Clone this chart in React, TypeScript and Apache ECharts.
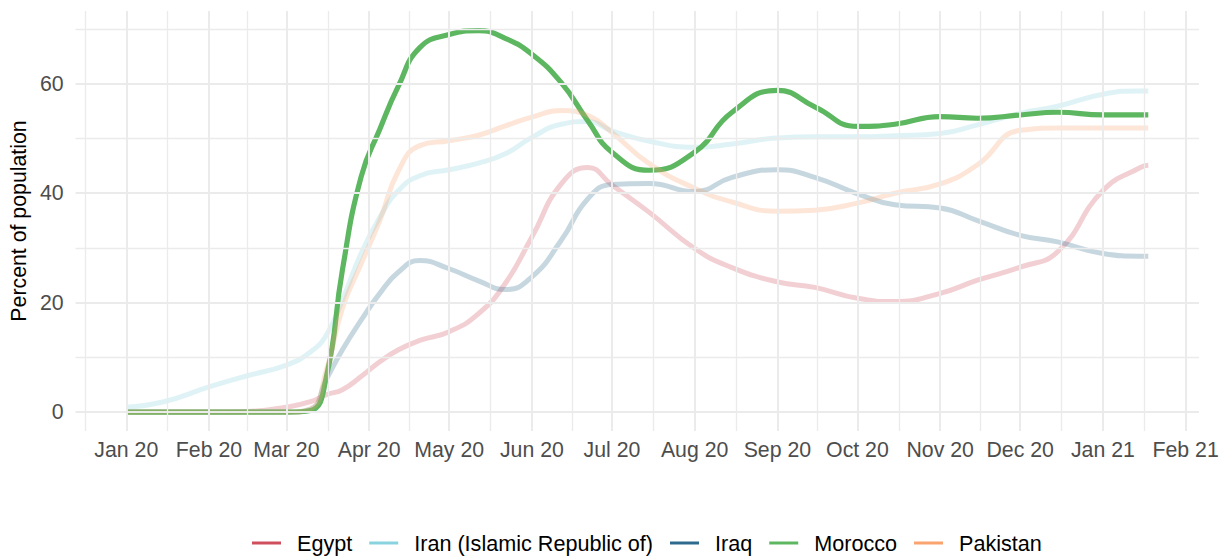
import React, { useEffect, useRef } from "react";
import * as echarts from "echarts";

// ---- data ----
const dates = [
  "2020-01-01", "2020-01-15", "2020-02-01", "2020-02-15", "2020-03-01", "2020-03-10",
  "2020-03-16", "2020-03-22", "2020-03-29", "2020-04-05", "2020-04-12", "2020-04-20",
  "2020-05-01", "2020-05-12", "2020-05-22", "2020-06-01", "2020-06-12", "2020-06-22",
  "2020-07-01", "2020-07-15", "2020-08-01", "2020-08-15", "2020-09-01", "2020-09-15",
  "2020-10-01", "2020-10-15", "2020-11-01", "2020-11-15", "2020-12-01", "2020-12-15",
  "2021-01-01", "2021-01-15", "2021-01-18",
];

const egypt = [
  0, 0, 0, 0.1, 0.9, 1.9, 3.2, 4.1, 6.5, 9.2, 11.4, 13.1,
  14.7, 18, 23.5, 32, 41.7, 44.7, 41.5, 36.5, 29.9, 26.4, 23.8, 22.8,
  20.8, 20.2, 21.7, 24.1, 26.5, 29.3, 40.5, 44.7, 45.1,
];
const iran = [
  0.9, 1.9, 4.6, 6.6, 8.6, 11, 14.1, 20.5, 29, 35.6, 40.5, 43.2,
  44.3, 45.5, 47.2, 50.2, 52.6, 53.1, 51.4, 49.5, 48.4, 49, 50.1, 50.3,
  50.3, 50.5, 50.9, 52.5, 54.6, 55.9, 58.1, 58.7, 58.7,
];
const iraq = [
  0, 0, 0, 0, 0, 0.5, 6, 11.4, 16.8, 21.7, 25.6, 27.7,
  26.2, 24, 22.4, 24.7, 31.4, 39, 41.6, 41.8, 40.3, 42.9, 44.3, 42.9,
  39.9, 37.9, 37.3, 35, 32.3, 31.1, 29, 28.5, 28.5,
];
const morocco = [
  0, 0, 0, 0, 0, 0.3, 6.5, 26, 43, 51.7, 59.6, 66.6,
  69, 69.7, 68.3, 65.4, 60.2, 53.2, 47.5, 44.2, 47.5, 54.8, 58.8, 55.8,
  52.2, 52.6, 54, 53.7, 54.3, 54.8, 54.3, 54.3, 54.3,
];
const pakistan = [
  0, 0, 0, 0, 0, 0.6, 7.7, 19, 27.1, 35, 44.1, 48.7,
  49.6, 50.6, 52.3, 53.9, 55.1, 54.2, 51.1, 45.4, 40.9, 38.4, 36.7, 36.9,
  38.2, 40, 41.7, 45.2, 51.5, 51.9, 51.9, 51.9, 51.9,
];

const seriesNames = ["Egypt", "Iran (Islamic Republic of)", "Iraq", "Morocco", "Pakistan"];
const seriesValues = [egypt, iran, iraq, morocco, pakistan];
const seriesColors = ["#CF4F5C", "#88D3DE", "#2D6A8E", "#5DB760", "#F9A36F"];
const highlighted = "Morocco";

const xTickDates = [
  "2020-01-01", "2020-02-01", "2020-03-01", "2020-04-01", "2020-05-01", "2020-06-01",
  "2020-07-01", "2020-08-01", "2020-09-01", "2020-10-01", "2020-11-01", "2020-12-01",
  "2021-01-01", "2021-02-01",
];
const xTickLabels = [
  "Jan 20", "Feb 20", "Mar 20", "Apr 20", "May 20", "Jun 20", "Jul 20",
  "Aug 20", "Sep 20", "Oct 20", "Nov 20", "Dec 20", "Jan 21", "Feb 21",
];
const xRange = ["2019-12-13", "2021-02-06"];
const yTicks = [0, 20, 40, 60];
const yMinorTicks = [10, 30, 50, 70];
const yRange = [-3.45, 73.3];

// ---- helpers ----
const ts = (s: string) => {
  const [y, m, d] = s.split("-").map(Number);
  return new Date(y, m - 1, d).getTime();
};

const FONT = '"Liberation Sans", Arial, Helvetica, sans-serif';
const GRID = "#EBEBEB";

export default function App() {
  const ref = useRef<HTMLDivElement>(null);

  useEffect(() => {
    document.body.style.margin = "0";
    if (!ref.current) return;
    const chart = echarts.init(ref.current, undefined, { renderer: "svg" });

    const xMin = ts(xRange[0]);
    const xMax = ts(xRange[1]);
    const majorX = xTickDates.map(ts);
    // minor vertical lines: midpoints between month breaks (plus one before the first)
    const first = new Date(majorX[0]);
    const prevBreak = new Date(first.getFullYear(), first.getMonth() - 1, 1).getTime();
    const allBreaks = [prevBreak, ...majorX];
    const minorX: number[] = [];
    for (let i = 0; i < allBreaks.length - 1; i++) {
      const mid = (allBreaks[i] + allBreaks[i + 1]) / 2;
      if (mid > xMin && mid < xMax) minorX.push(mid);
    }

    const gridLines: any[] = [
      ...minorX.map((v) => ({ xAxis: v, lineStyle: { color: GRID, width: 1.3, type: "solid" } })),
      ...yMinorTicks.map((v) => ({ yAxis: v, lineStyle: { color: GRID, width: 1.3, type: "solid" } })),
      ...majorX.map((v) => ({ xAxis: v, lineStyle: { color: GRID, width: 2, type: "solid" } })),
      ...yTicks.map((v) => ({ yAxis: v, lineStyle: { color: GRID, width: 2, type: "solid" } })),
    ];

    const labelFor = (v: number) => {
      const i = majorX.findIndex((t) => Math.abs(t - v) < 3600000 * 12);
      return i >= 0 ? xTickLabels[i] : "";
    };

    const lineSeries = seriesNames.map((name, i) => ({
      name,
      type: "line",
      data: dates.map((d, j) => [ts(d), seriesValues[i][j]]),
      smooth: 0.5,
      showSymbol: false,
      symbol: "none",
      z: 3,
      color: seriesColors[i],
      lineStyle: {
        color: seriesColors[i],
        width: name === highlighted ? 5.2 : 5,
        opacity: name === highlighted ? 1 : 0.27,
        cap: "butt",
        join: "round",
      },
      emphasis: { disabled: true },
    }));

    chart.setOption({
      animation: false,
      backgroundColor: "#ffffff",
      textStyle: { fontFamily: FONT },
      grid: { left: 74, right: 29, top: 11, bottom: 128, containLabel: false },
      xAxis: {
        type: "value",
        min: xMin,
        max: xMax,
        scale: true,
        axisLine: { show: false },
        axisTick: { show: false },
        splitLine: { show: false },
        axisLabel: {
          customValues: majorX,
          formatter: (v: number) => labelFor(v),
          color: "#4D4D4D",
          fontSize: 21.3,
          fontFamily: FONT,
          margin: 8,
          hideOverlap: false,
        },
      },
      yAxis: {
        type: "value",
        min: yRange[0],
        max: yRange[1],
        name: "Percent of population",
        nameLocation: "middle",
        nameGap: 44,
        nameTextStyle: { color: "#000000", fontSize: 21.3, fontFamily: FONT },
        axisLine: { show: false },
        axisTick: { show: false },
        splitLine: { show: false },
        axisLabel: {
          customValues: yTicks,
          formatter: (v: number) => String(v),
          color: "#4D4D4D",
          fontSize: 21.3,
          fontFamily: FONT,
          margin: 12,
        },
      },
      legend: {
        data: seriesNames.map((n, i) => ({
          name: n,
          itemStyle: { color: seriesColors[i], opacity: 1 },
        })),
        left: 252,
        top: 532,
        padding: 0,
        icon: "rect",
        itemWidth: 29,
        itemHeight: 3,
        itemGap: 17,
        selectedMode: false,
        textStyle: {
          color: "#000000",
          fontSize: 21.6,
          fontFamily: FONT,
          padding: [0, 0, 0, 11],
        },
      },
      series: [
        {
          name: "_grid",
          type: "line",
          data: [],
          z: 1,
          silent: true,
          markLine: {
            silent: true,
            symbol: ["none", "none"],
            label: { show: false },
            emphasis: { disabled: true },
            animation: false,
            data: gridLines,
          },
        },
        ...lineSeries,
      ],
    });

    return () => chart.dispose();
  }, []);

  return <div ref={ref} style={{ width: 1228, height: 559 }} />;
}
